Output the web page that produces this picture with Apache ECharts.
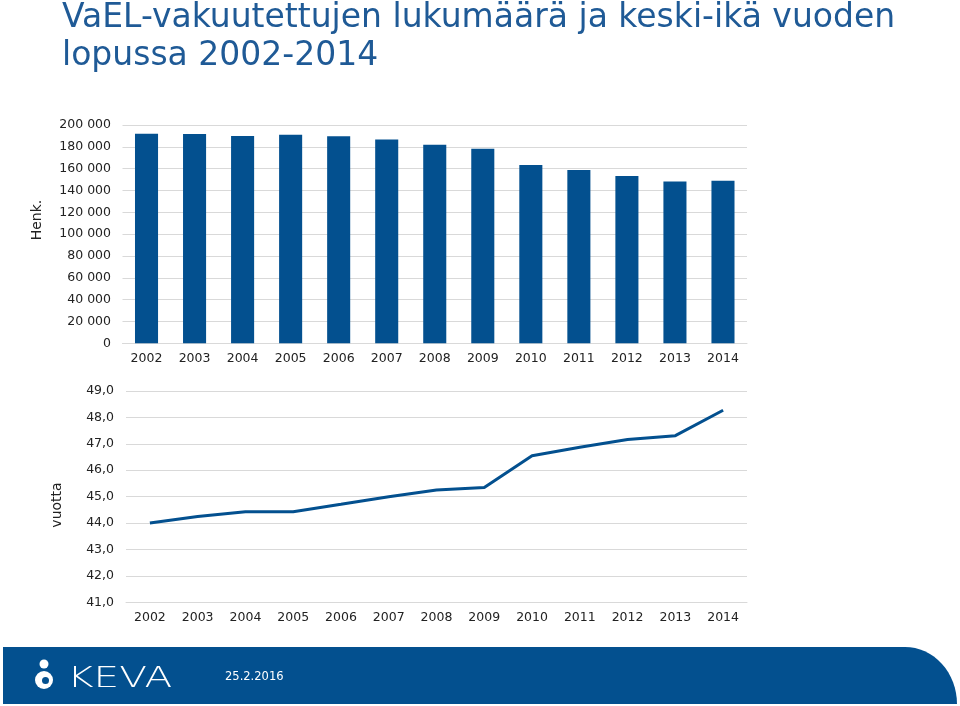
<!DOCTYPE html>
<html>
<head>
<meta charset="utf-8">
<script src="https://cdn.jsdelivr.net/npm/echarts@6/dist/echarts.min.js"></script>
<style>html,body{margin:0;padding:0;background:#fff;}#c{width:960px;height:706px;}</style>
</head>
<body>
<div id="c"></div>
<script>
var years = ['2002','2003','2004','2005','2006','2007','2008','2009','2010','2011','2012','2013','2014'];
var insuredCount = [192000, 191700, 189900, 191000, 189600, 186800, 181900, 178300, 163300, 158700, 153200, 148300, 148900];
var averageAge = [44.0, 44.25, 44.43, 44.43, 44.71, 45.0, 45.25, 45.35, 46.55, 46.87, 47.16, 47.31, 48.27];
var titleLines = ['VaEL-vakuutettujen lukumäärä ja keski-ikä vuoden', 'lopussa 2002-2014'];
var dateText = '25.2.2016';

var blue = '#03508F';
var font = 'DejaVu Sans';

// footer band outline (decoration)
var band = [[3, 647]];
for (var i = 0; i <= 16; i++) {
  var t = i / 16 * Math.PI / 2;
  band.push([905 + 52 * Math.sin(t), 704 - 57 * Math.cos(t)]);
}
band.push([3, 704]);

var chart = echarts.init(document.getElementById('c'));
chart.setOption({
  animation: false,
  textStyle: {fontFamily: font},
  grid: [
    {left: 122.5, right: 213, top: 125, bottom: 362.7},
    {left: 126, right: 213, top: 391, bottom: 103.7}
  ],
  xAxis: [
    {gridIndex: 0, type: 'category', data: years,
     axisLine: {lineStyle: {color: '#d9d9d9'}}, axisTick: {show: false},
     axisLabel: {color: '#222', fontSize: 12.5, margin: 9, fontFamily: font}},
    {gridIndex: 1, type: 'category', data: years,
     axisLine: {lineStyle: {color: '#d9d9d9'}}, axisTick: {show: false},
     axisLabel: {color: '#222', fontSize: 12.5, margin: 9, fontFamily: font}}
  ],
  yAxis: [
    {gridIndex: 0, type: 'value', min: 0, max: 200000, interval: 20000,
     axisLine: {show: false}, axisTick: {show: false},
     splitLine: {lineStyle: {color: '#d9d9d9', width: 1.2}},
     axisLabel: {color: '#222', fontSize: 12.5, margin: 11.5, fontFamily: font,
       formatter: function (v) { return String(v).replace(/\B(?=(\d{3})+(?!\d))/g, ' '); }}},
    {gridIndex: 1, type: 'value', min: 41, max: 49, interval: 1,
     axisLine: {show: false}, axisTick: {show: false},
     splitLine: {lineStyle: {color: '#d9d9d9', width: 1.2}},
     axisLabel: {color: '#222', fontSize: 12.5, margin: 12, fontFamily: font,
       formatter: function (v) { return v.toFixed(1).replace('.', ','); }}}
  ],
  series: [
    {type: 'bar', xAxisIndex: 0, yAxisIndex: 0, data: insuredCount, barWidth: '48%',
     itemStyle: {color: blue}},
    {type: 'line', xAxisIndex: 1, yAxisIndex: 1, data: averageAge, showSymbol: false,
     symbol: 'none', lineStyle: {color: blue, width: 3}}
  ],
  graphic: [
    {type: 'text', x: 62, y: 35, style: {text: titleLines[0], font: '33px "DejaVu Sans"', fill: '#1F5A96', verticalAlign: 'bottom'}},
    {type: 'text', x: 62, y: 73, style: {text: titleLines[1], font: '33px "DejaVu Sans"', fill: '#1F5A96', verticalAlign: 'bottom'}},
    {type: 'text', x: 37, y: 220, rotation: Math.PI / 2,
     style: {text: 'Henk.', font: '14px "DejaVu Sans"', fill: '#222', align: 'center', verticalAlign: 'middle'}},
    {type: 'text', x: 57, y: 505, rotation: Math.PI / 2,
     style: {text: 'vuotta', font: '14px "DejaVu Sans"', fill: '#222', align: 'center', verticalAlign: 'middle'}},
    {type: 'polygon', shape: {points: band}, style: {fill: blue}},
    {type: 'circle', shape: {cx: 44, cy: 664, r: 4.5}, style: {fill: '#fff'}},
    {type: 'circle', shape: {cx: 44, cy: 680, r: 9}, style: {fill: '#fff'}},
    {type: 'circle', shape: {cx: 45.5, cy: 680.5, r: 3.5}, style: {fill: blue}},
    {type: 'text', x: 67, y: 679, scaleX: 1.4, style: {text: 'KEVA', font: '200 29px "DejaVu Sans"', fill: '#fff', verticalAlign: 'middle'}},
    {type: 'text', x: 225, y: 677, style: {text: dateText, font: '11.5px "DejaVu Sans"', fill: '#fff', verticalAlign: 'middle'}}
  ]
});
</script>
</body>
</html>
